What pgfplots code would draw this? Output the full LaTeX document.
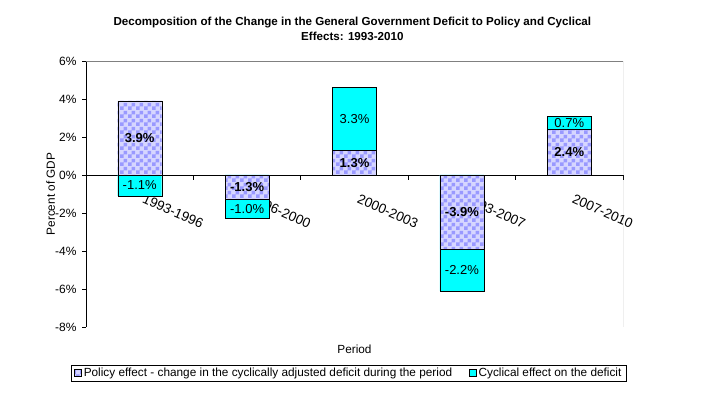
\documentclass[border=0pt]{standalone}
\usepackage{pgfplots}
\pgfplotsset{compat=1.18}
\usepackage{fontspec}
\setmainfont{Liberation Sans}
\usetikzlibrary{patterns}
\definecolor{lav}{RGB}{153,153,255}
\definecolor{lavbg}{RGB}{214,214,255}
\definecolor{cyc}{RGB}{0,255,255}
\pgfdeclarepatternformonly{xlchk}{\pgfqpoint{0pt}{0pt}}{\pgfqpoint{8pt}{8pt}}{\pgfqpoint{8pt}{8pt}}{%
  \pgfpathrectangle{\pgfqpoint{0pt}{0pt}}{\pgfqpoint{4pt}{4pt}}%
  \pgfpathrectangle{\pgfqpoint{4pt}{4pt}}{\pgfqpoint{4pt}{4pt}}%
  \pgfusepath{fill}}
\begin{document}
\begin{tikzpicture}[x=1pt,y=1pt]
\path (0,0) rectangle (722,398);
\begin{axis}[
  at={(86pt,71pt)}, anchor=south west,
  scale only axis, width=537pt, height=266pt,
  xmin=-0.5, xmax=4.5, ymin=-8, ymax=6,
  axis x line*=middle, axis y line*=left,
  axis line style={black, line width=0.8pt},
  tick align=outside,
  major tick length=4pt, minor tick length=5pt,
  xtick={0,1,2,3,4},
  xticklabels={1993-1996,1996-2000,2000-2003,2003-2007,2007-2010},
  minor xtick={0.5,1.5,2.5,3.5,4.5},
  major x tick style={draw=none},
  minor x tick style={black, line width=0.8pt},
  ytick={-8,-6,...,6},
  y tick style={black, line width=0.6pt},
  /pgf/number format/assume math mode=true,
  yticklabel={\pgfmathprintnumber{\tick}\%},
  yticklabel style={font=\fontsize{12}{14}\selectfont, xshift=-2pt},
  xticklabel style={font=\fontsize{13.5}{16}\selectfont, xshift=4pt, yshift=-10pt, rotate=-24, anchor=north west},
  title={Decomposition of the Change in the General Government Deficit to Policy and Cyclical\\Effects: 1993-2010},
  title style={at={(axis description cs:0.496,1.0977)}, anchor=center, align=center, font=\bfseries\fontsize{11.6}{15}\selectfont},
  xlabel={Period},
  xlabel style={at={(axis description cs:0.5,-0.083)}, anchor=center, font=\fontsize{11.8}{14}\selectfont},
  ylabel={Percent of GDP},
  ylabel style={at={(axis description cs:-0.066,0.5)}, anchor=center, font=\fontsize{11.8}{14}\selectfont},
  legend style={at={(axis description cs:0.4895,-0.142)}, anchor=north, legend columns=2, draw=black,
    font=\fontsize{11.8}{13}\selectfont, inner ysep=1pt, inner xsep=3pt,
    /tikz/every even column/.append style={column sep=15pt}},
  legend image code/.code={\draw[#1] (0pt,-3.5pt) rectangle (7pt,3.5pt);},
  legend cell align=left,
]
\draw[gray] (rel axis cs:0,0) -- (rel axis cs:1,0) -- (rel axis cs:1,1) -- (rel axis cs:0,1);
\addlegendimage{draw=black, fill=lavbg, postaction={pattern=xlchk, pattern color=lav}}
\addlegendentry{Policy effect - change in the cyclically adjusted deficit during the period}
\addlegendimage{draw=black, fill=cyc}
\addlegendentry{Cyclical effect on the deficit}
% cyclical bars drawn from the end of the policy bar (policy + cyclical)
\addplot[ybar, bar width=44pt, bar shift=0pt, draw=black, fill=cyc, forget plot]
  coordinates {(0,-1.1) (1,-2.3) (2,4.6) (3,-6.1) (4,3.1)};
% policy bars
\addplot[ybar, bar width=44pt, bar shift=0pt, draw=black, fill=lavbg,
  postaction={pattern=xlchk, pattern color=lav}, forget plot]
  coordinates {(0,3.9) (1,-1.3) (2,1.3) (3,-3.9) (4,2.4)};
% data labels: policy
\addplot[only marks, mark=none, forget plot, nodes near coords, point meta=explicit symbolic,
  nodes near coords align=center,
  every node near coord/.append style={anchor=center, font=\bfseries\fontsize{13}{15}\selectfont}]
  table[meta=lab]{
x y lab
0 1.95 3.9\%
1 -0.65 -1.3\%
2 0.65 1.3\%
3 -1.95 -3.9\%
4 1.2 2.4\%
};
% data labels: cyclical
\addplot[only marks, mark=none, forget plot, nodes near coords, point meta=explicit symbolic,
  nodes near coords align=center,
  every node near coord/.append style={anchor=center, font=\fontsize{13}{15}\selectfont}]
  table[meta=lab]{
x y lab
0 -0.55 -1.1\%
1 -1.8 -1.0\%
2 2.95 3.3\%
3 -5.0 -2.2\%
4 2.75 0.7\%
};
\end{axis}
\end{tikzpicture}
\end{document}
